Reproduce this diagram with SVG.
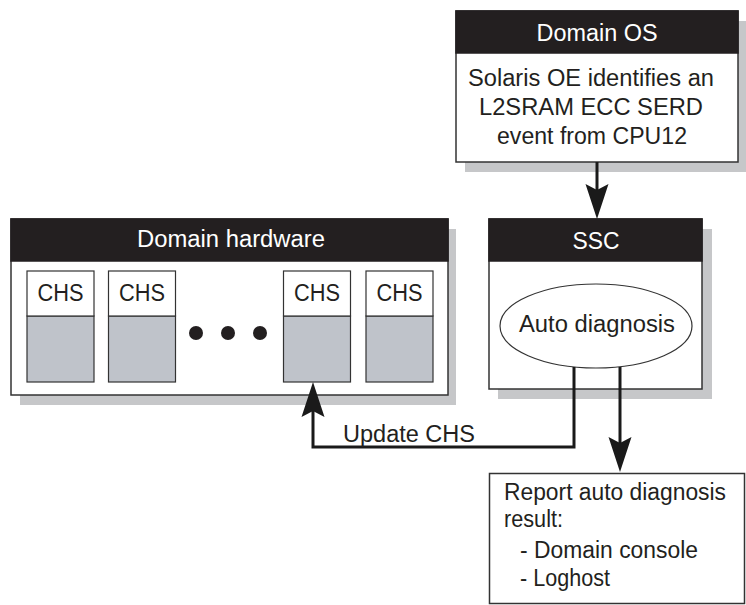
<svg xmlns="http://www.w3.org/2000/svg" width="746" height="605" viewBox="0 0 746 605">
  <style>
    text { font-family: "Liberation Sans", Arial, Helvetica, sans-serif; font-size: 23px; fill: #231f20; }
    .hdr { fill: #ffffff; text-anchor: middle; }
    .mid { text-anchor: middle; }
    .shadow { fill: #c6c7c9; stroke: none; }
    .box { fill: #ffffff; stroke: #333333; stroke-width: 1.5; }
    .head { fill: #231f20; stroke: #231f20; stroke-width: 1.5; }
    .chs { fill: #ffffff; stroke: #333333; stroke-width: 1.2; }
    .chsb { fill: #bfc3ca; stroke: #333333; stroke-width: 1.2; }
    .conn { fill: none; stroke: #1a1a1a; stroke-width: 3; }
    .dot { fill: #231f20; }
  </style>
  <defs>
    <marker id="arr" markerUnits="userSpaceOnUse" markerWidth="36" markerHeight="24" viewBox="0 0 36 24" refX="24" refY="12" orient="auto">
      <path d="M35,12 L0,0.5 L6,12 L0,23.5 Z" fill="#1a1a1a"/>
    </marker>
  </defs>

  <rect width="746" height="605" fill="#ffffff"/>

  <g id="domain-os">
    <rect class="shadow" x="465" y="21" width="281" height="151"/>
    <rect class="box" x="456" y="11" width="282" height="151"/>
    <rect class="head" x="456" y="11" width="282" height="42"/>
    <text class="hdr" x="597" y="41" textLength="121" lengthAdjust="spacingAndGlyphs">Domain OS</text>
    <text class="mid" x="591" y="86" textLength="246" lengthAdjust="spacingAndGlyphs">Solaris OE identifies an</text>
    <text class="mid" x="591" y="115" textLength="224" lengthAdjust="spacingAndGlyphs">L2SRAM ECC SERD</text>
    <text class="mid" x="592" y="143.5" textLength="190" lengthAdjust="spacingAndGlyphs">event from CPU12</text>
  </g>

  <g id="ssc">
    <rect class="shadow" x="498" y="229" width="214" height="170"/>
    <rect class="box" x="489" y="219" width="213" height="170"/>
    <rect class="head" x="489" y="219" width="213" height="42"/>
    <text class="hdr" x="596" y="248.5" textLength="47" lengthAdjust="spacingAndGlyphs">SSC</text>
  </g>

  <g id="auto-diagnosis">
    <ellipse cx="596" cy="326" rx="96" ry="42" fill="#ffffff" stroke="#333333" stroke-width="1.2"/>
    <text class="mid" x="597" y="332" textLength="156" lengthAdjust="spacingAndGlyphs">Auto diagnosis</text>
  </g>

  <g id="domain-hardware">
    <rect class="shadow" x="20" y="229" width="436" height="176"/>
    <rect class="box" x="11" y="219" width="437" height="176"/>
    <rect class="head" x="11" y="219" width="437" height="42"/>
    <text class="hdr" x="231" y="247" textLength="188" lengthAdjust="spacingAndGlyphs">Domain hardware</text>
  </g>

  <g id="chs-1">
    <rect class="chsb" x="27" y="316" width="67" height="66"/>
    <rect class="chs" x="27" y="271" width="67" height="45"/>
    <text class="mid" x="60.5" y="301" textLength="46" lengthAdjust="spacingAndGlyphs">CHS</text>
  </g>
  <g id="chs-2">
    <rect class="chsb" x="108.5" y="316" width="67" height="66"/>
    <rect class="chs" x="108.5" y="271" width="67" height="45"/>
    <text class="mid" x="142" y="301" textLength="46" lengthAdjust="spacingAndGlyphs">CHS</text>
  </g>
  <g id="ellipsis">
    <circle class="dot" cx="196" cy="333" r="7"/>
    <circle class="dot" cx="228" cy="333" r="7"/>
    <circle class="dot" cx="260" cy="333" r="7"/>
  </g>
  <g id="chs-3">
    <rect class="chsb" x="283.5" y="316" width="67" height="66"/>
    <rect class="chs" x="283.5" y="271" width="67" height="45"/>
    <text class="mid" x="317" y="301" textLength="46" lengthAdjust="spacingAndGlyphs">CHS</text>
  </g>
  <g id="chs-4">
    <rect class="chsb" x="366" y="316" width="67" height="66"/>
    <rect class="chs" x="366" y="271" width="67" height="45"/>
    <text class="mid" x="399.5" y="301" textLength="46" lengthAdjust="spacingAndGlyphs">CHS</text>
  </g>

  <g id="report">
    <rect class="box" x="489.5" y="473.5" width="255" height="130"/>
    <text x="504" y="499.5" textLength="222" lengthAdjust="spacingAndGlyphs">Report auto diagnosis</text>
    <text x="504" y="527" textLength="59" lengthAdjust="spacingAndGlyphs">result:</text>
    <text x="520" y="557.5" textLength="178" lengthAdjust="spacingAndGlyphs">- Domain console</text>
    <text x="520" y="585.5" textLength="90" lengthAdjust="spacingAndGlyphs">- Loghost</text>
  </g>

  <g id="connectors">
    <path class="conn" d="M597,162 L597,208" marker-end="url(#arr)"/>
    <path class="conn" d="M574,367 L574,447 L313,447 L313,393" marker-end="url(#arr)"/>
    <path class="conn" d="M620,367 L620,461" marker-end="url(#arr)"/>
    <text x="343" y="442" textLength="132" lengthAdjust="spacingAndGlyphs">Update CHS</text>
  </g>
</svg>
